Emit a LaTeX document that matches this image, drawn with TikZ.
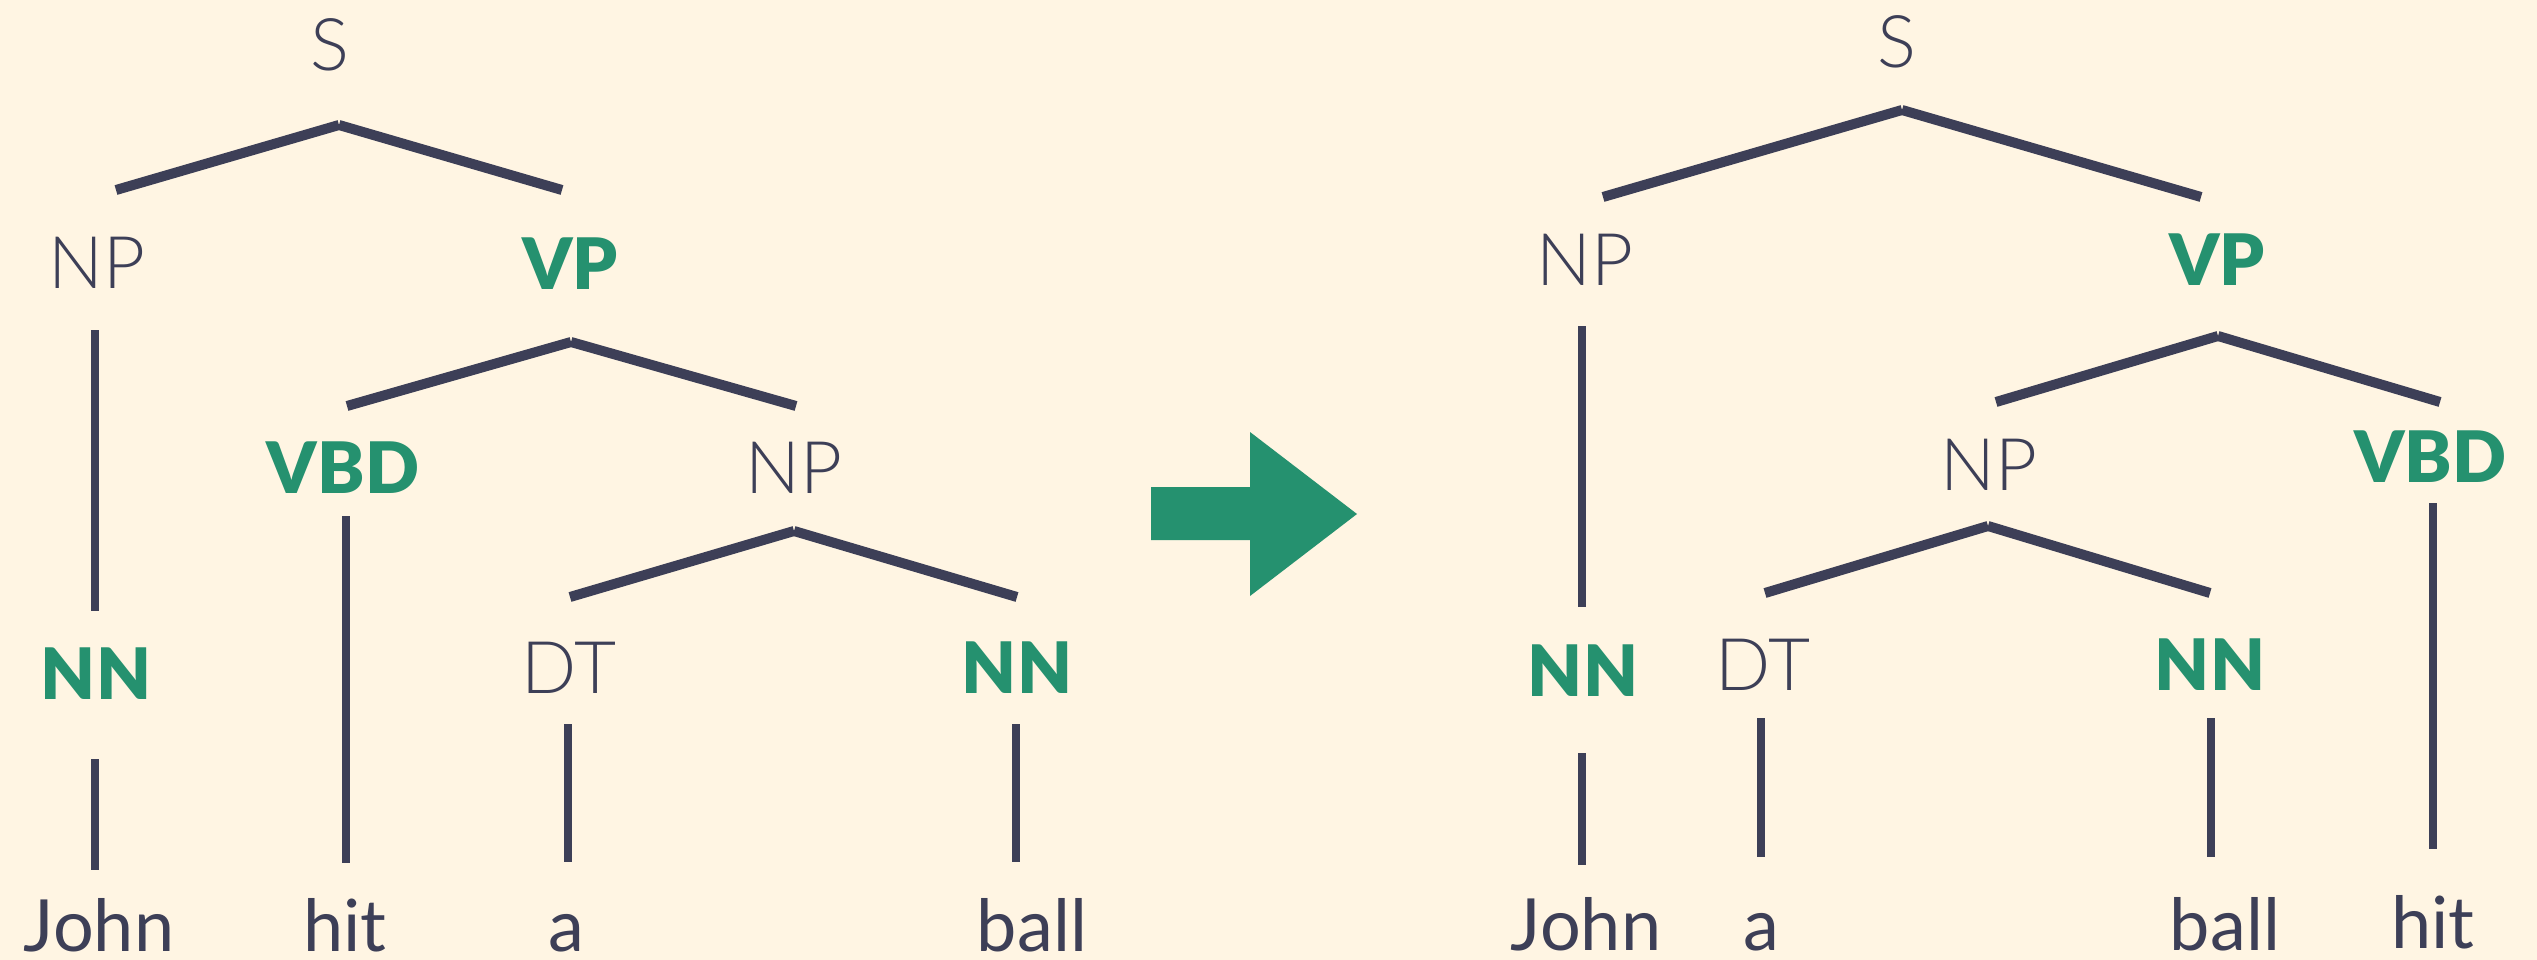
\documentclass[tikz,border=0pt]{standalone}
\usepackage{fontspec}
\setmainfont{Lato}
\newfontfamily\lightface{Lato Light}
\newfontfamily\heavyface{Lato Black}
\definecolor{paper}{HTML}{FFF5E3}
\definecolor{ink}{HTML}{3D3F57}
\definecolor{leaf}{HTML}{25916F}
\tikzset{
  lbl/.style={anchor=base, inner sep=0pt, text=ink, font=\lightface\fontsize{72.6}{80}\selectfont},
  head/.style={anchor=base, inner sep=0pt, text=leaf, font=\heavyface\fontsize{71}{80}\selectfont},
  word/.style={anchor=base, inner sep=0pt, text=ink, font=\fontsize{72}{80}\selectfont},
  branch/.style={draw=ink, line width=10pt, line cap=butt},
  stem/.style={draw=ink, line width=8.5pt, line cap=butt},
  bigarrow/.style={fill=leaf, draw=none}
}
\begin{document}
\begin{tikzpicture}[x=1pt, y=-1pt]
\useasboundingbox (0,0) rectangle (2537,960);
\fill[paper] (0,0) rectangle (2537,960);

% ---------- left tree: John hit a ball ----------
\node[lbl]  (lS)    at (330,71)  {S};
\node[lbl]  (lNP)   at (97,288)  {NP};
\node[head] (lVP)   at (570,289) {VP};
\node[head] (lVBD)  at (343,493) {VBD};
\node[lbl]  (lNP2)  at (794,493) {NP};
\node[head] (lNN)   at (96,699)  {NN};
\node[lbl]  (lDT)   at (569,693) {DT};
\node[head] (lNN2)  at (1017,693) {NN};
\node[word] (lJohn) at (99,951)  {John};
\node[word] (lhit)  at (345,951) {hit};
\node[word] (la)    at (566,951) {a};
\node[word] (lball) at (1032,951) {ball};

\coordinate (lS-b)    at (339,125);
\coordinate (lNP-t)   at (116,190);
\coordinate (lVP-t)   at (562,190);
\coordinate (lVP-b)   at (571,342);
\coordinate (lVBD-t)  at (347,406);
\coordinate (lNP2-t)  at (796,406);
\coordinate (lNP2-b)  at (794,531);
\coordinate (lDT-t)   at (570,597);
\coordinate (lNN2-t)  at (1017,597);

\draw[branch] (lS-b) -- (lNP-t);
\draw[branch] (lS-b) -- (lVP-t);
\draw[branch] (lVP-b) -- (lVBD-t);
\draw[branch] (lVP-b) -- (lNP2-t);
\draw[branch] (lNP2-b) -- (lDT-t);
\draw[branch] (lNP2-b) -- (lNN2-t);

\coordinate (lNP-s1) at (95,330);   \coordinate (lNP-s2) at (95,611);
\coordinate (lNN-s1) at (95,759);   \coordinate (lNN-s2) at (95,870);
\coordinate (lVBD-s1) at (346,516); \coordinate (lVBD-s2) at (346,863);
\coordinate (lDT-s1) at (568,724);  \coordinate (lDT-s2) at (568,862);
\coordinate (lNN2-s1) at (1016,724); \coordinate (lNN2-s2) at (1016,862);
\draw[stem] (lNP-s1) -- (lNP-s2);
\draw[stem] (lNN-s1) -- (lNN-s2);
\draw[stem] (lVBD-s1) -- (lVBD-s2);
\draw[stem] (lDT-s1) -- (lDT-s2);
\draw[stem] (lNN2-s1) -- (lNN2-s2);

% ---------- block arrow ----------
\fill[bigarrow] (1151,487) -- (1250,487) -- (1250,432) -- (1357,514)
  -- (1250,596) -- (1250,540) -- (1151,540) -- cycle;

% ---------- right tree: John a ball hit ----------
\node[lbl]  (rS)    at (1897,68)  {S};
\node[lbl]  (rNP)   at (1585,285) {NP};
\node[head] (rVP)   at (2217,285) {VP};
\node[lbl]  (rNP2)  at (1989,490) {NP};
\node[head] (rVBD)  at (2430,482) {VBD};
\node[head] (rNN)   at (1583,696) {NN};
\node[lbl]  (rDT)   at (1763,690) {DT};
\node[head] (rNN2)  at (2210,690) {NN};
\node[word] (rJohn) at (1586,950) {John};
\node[word] (ra)    at (1761,950) {a};
\node[word] (rball) at (2225,950) {ball};
\node[word] (rhit)  at (2433,948) {hit};

\coordinate (rS-b)    at (1902,110);
\coordinate (rNP-t)   at (1603,197);
\coordinate (rVP-t)   at (2201,197);
\coordinate (rVP-b)   at (2218,336);
\coordinate (rNP2-t)  at (1996,402);
\coordinate (rVBD-t)  at (2440,402);
\coordinate (rNP2-b)  at (1988,526);
\coordinate (rDT-t)   at (1765,593);
\coordinate (rNN2-t)  at (2210,593);

\draw[branch] (rS-b) -- (rNP-t);
\draw[branch] (rS-b) -- (rVP-t);
\draw[branch] (rVP-b) -- (rNP2-t);
\draw[branch] (rVP-b) -- (rVBD-t);
\draw[branch] (rNP2-b) -- (rDT-t);
\draw[branch] (rNP2-b) -- (rNN2-t);

\coordinate (rNP-s1) at (1582,326);  \coordinate (rNP-s2) at (1582,607);
\coordinate (rNN-s1) at (1582,753);  \coordinate (rNN-s2) at (1582,865);
\coordinate (rDT-s1) at (1761,718);  \coordinate (rDT-s2) at (1761,857);
\coordinate (rNN2-s1) at (2211,718); \coordinate (rNN2-s2) at (2211,857);
\coordinate (rVBD-s1) at (2433,503); \coordinate (rVBD-s2) at (2433,849);
\draw[stem] (rNP-s1) -- (rNP-s2);
\draw[stem] (rNN-s1) -- (rNN-s2);
\draw[stem] (rDT-s1) -- (rDT-s2);
\draw[stem] (rNN2-s1) -- (rNN2-s2);
\draw[stem] (rVBD-s1) -- (rVBD-s2);
\end{tikzpicture}
\end{document}
